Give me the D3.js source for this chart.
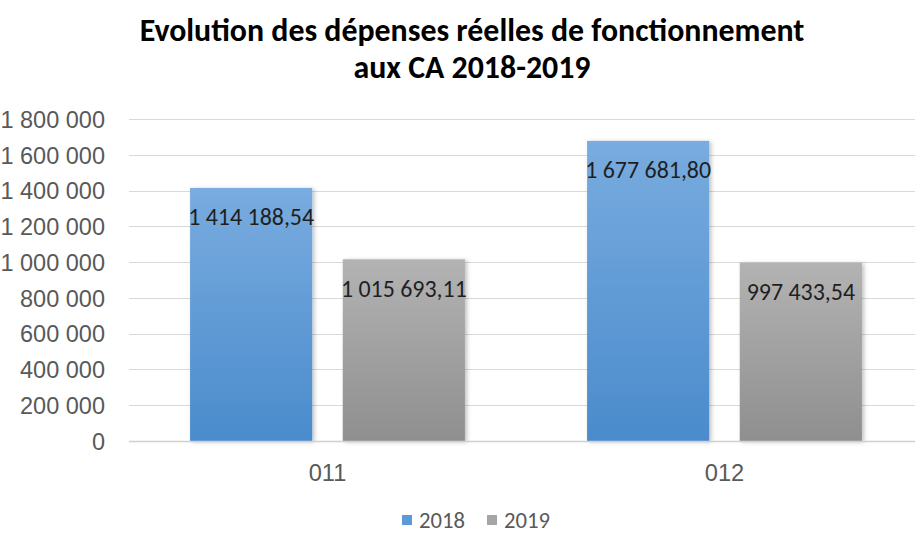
<!DOCTYPE html>
<html><head><meta charset="utf-8">
<script src="https://cdn.jsdelivr.net/npm/d3@7"></script>
<style>
html,body{margin:0;padding:0;background:#fff;}
svg{display:block;font-family:Carlito,"Liberation Sans Narrow","Open Sans",sans-serif;}
</style></head>
<body>
<svg id="chart" width="915" height="533"></svg>
<script>
const categories = ["011", "012"];
const series = ["2018", "2019"];
const values2018 = [1414188.54, 1677681.80];
const values2019 = [1015693.11, 997433.54];
const valueLabels2018 = ["1 414 188,54", "1 677 681,80"];
const valueLabels2019 = ["1 015 693,11", "997 433,54"];
const yTicks = [0, 200000, 400000, 600000, 800000, 1000000, 1200000, 1400000, 1600000, 1800000];
const titleLines = ["Evolution des dépenses réelles de fonctionnement", "aux CA 2018-2019"];

const svg = d3.select("#chart");
const plot = {left: 129, right: 923, top: 119, bottom: 441};

function fitSize(sample, target, base, weight){
  const t = svg.append("text").attr("font-size", base).attr("font-weight", weight||"normal").text(sample);
  const w = t.node().getComputedTextLength();
  t.remove();
  return base * target / w;
}
const tickFS = fitSize("1\u00a0800\u00a0000", 94, 18);
const valFS = fitSize("1\u00a0414\u00a0188,54", 126, 18);
const catFS = fitSize("011", 36, 18);
const legFS = fitSize("2018", 46, 18);
const titleFS = fitSize(titleLines[0], 665, 25, "bold");

const defs = svg.append("defs");
function grad(id, c1, c2){
  const g = defs.append("linearGradient").attr("id", id).attr("x1",0).attr("y1",0).attr("x2",0).attr("y2",1);
  g.append("stop").attr("offset","0%").attr("stop-color",c1);
  g.append("stop").attr("offset","100%").attr("stop-color",c2);
}
grad("gBlue", "#79acdf", "#4a8bcc");
grad("gGray", "#b3b3b3", "#8f8f8f");
const f = defs.append("filter").attr("id","shadow").attr("x","-10%").attr("y","-10%").attr("width","130%").attr("height","130%");
f.append("feDropShadow").attr("dx",2).attr("dy",1).attr("stdDeviation",2).attr("flood-color","#000").attr("flood-opacity",0.25);

const x0 = d3.scaleBand().domain(categories).range([plot.left, plot.right]).padding(0);
const x1 = d3.scaleBand().domain(series).range([0, x0.bandwidth()]).paddingInner(0.2).paddingOuter(0.4);
const y = d3.scaleLinear().domain([0, 1800000]).range([plot.bottom, plot.top]);

// gridlines
svg.append("g").selectAll("line").data(yTicks.filter(d=>d>0)).join("line")
  .attr("x1", plot.left).attr("x2", plot.right)
  .attr("y1", d=>Math.round(y(d))+0.5).attr("y2", d=>Math.round(y(d))+0.5)
  .attr("stroke", "#d9d9d9").attr("stroke-width", 1);

// y axis labels
const fmt = d => d3.format(",")(d).replace(/,/g, "\u00a0");
const yAxis = d3.axisLeft(y).tickValues(yTicks).tickSize(0).tickPadding(0).tickFormat(fmt);
const ga = svg.append("g").attr("transform", `translate(105,0)`).call(yAxis);
ga.select(".domain").remove();
ga.selectAll("text").attr("font-size", tickFS).attr("fill", "#595959").attr("font-family", "inherit").attr("dy","0.35em");

// bars
const data = categories.map((c,i)=>({cat:c, vals:[
  {s:"2018", v:values2018[i], label:valueLabels2018[i]},
  {s:"2019", v:values2019[i], label:valueLabels2019[i]}
]}));
const groups = svg.append("g").selectAll("g").data(data).join("g")
  .attr("transform", d=>`translate(${x0(d.cat)},0)`);
groups.selectAll("rect").data(d=>d.vals).join("rect")
  .attr("x", d=>x1(d.s)).attr("width", x1.bandwidth())
  .attr("y", d=>y(d.v)).attr("height", d=>y(0)-y(d.v))
  .attr("fill", d=>d.s==="2018" ? "url(#gBlue)" : "url(#gGray)")
  .attr("filter", "url(#shadow)");
groups.selectAll("text").data(d=>d.vals).join("text")
  .attr("x", d=>x1(d.s)+x1.bandwidth()/2)
  .attr("y", d=>y(d.v)+29)
  .attr("dy","0.35em")
  .attr("text-anchor","middle")
  .attr("font-size", valFS).attr("fill", "#1f1f1f")
  .text(d=>d.label.replace(/ /g,"\u00a0"));

// x axis baseline
svg.append("line").attr("x1", plot.left).attr("x2", plot.right)
  .attr("y1", plot.bottom+0.5).attr("y2", plot.bottom+0.5)
  .attr("stroke", "#d0d0d0").attr("stroke-width", 1.5);

// x labels
const xAxis = d3.axisBottom(x0).tickSize(0).tickPadding(0);
const gx = svg.append("g").attr("transform", `translate(0,${plot.bottom+32})`).call(xAxis);
gx.select(".domain").remove();
gx.selectAll("text").attr("font-size", catFS).attr("fill", "#595959").attr("font-family","inherit").attr("dy","0.35em");

// title
titleLines.forEach((t,i)=>{
  svg.append("text").attr("x", 472).attr("y", 41 + i*37)
    .attr("text-anchor","middle").attr("font-size", titleFS).attr("font-weight","bold").attr("fill","#000")
    .text(t);
});

// legend
const legend = svg.append("g").attr("transform","translate(402,520)");
const legItems = [{s:"2018", fill:"#5b9bd5", x:0},{s:"2019", fill:"#a5a5a5", x:85}];
legItems.forEach(l=>{
  legend.append("rect").attr("x", l.x).attr("y", -5).attr("width",10).attr("height",10).attr("fill", l.fill);
  legend.append("text").attr("x", l.x+17).attr("y", 0).attr("dy","0.35em").attr("font-size",legFS).attr("fill","#595959").text(l.s);
});
</script>
</body></html>
